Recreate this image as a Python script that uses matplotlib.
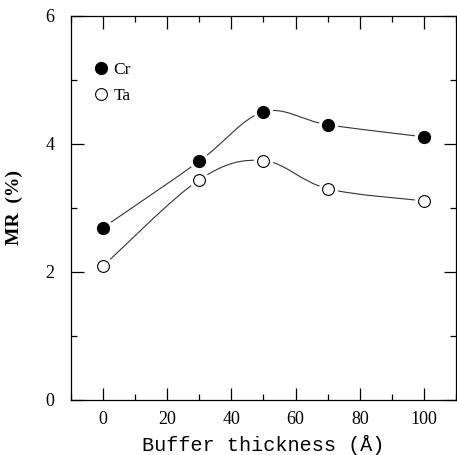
import numpy as np
import matplotlib.pyplot as plt
from matplotlib.path import Path
from matplotlib.patches import PathPatch

# Data
thickness = [0, 30, 50, 70, 100]
mr_cr = [2.69, 3.73, 4.50, 4.30, 4.11]
mr_ta = [2.09, 3.44, 3.74, 3.30, 3.11]


def smooth_path(x, y):
    # Catmull-Rom style bezier through the points
    x = np.asarray(x, float)
    y = np.asarray(y, float)
    verts = [(x[0], y[0])]
    codes = [Path.MOVETO]
    n = len(x)
    for i in range(n - 1):
        x0, y0 = (x[i - 1], y[i - 1]) if i > 0 else (x[i], y[i])
        x3, y3 = (x[i + 2], y[i + 2]) if i + 2 < n else (x[i + 1], y[i + 1])
        c1 = (x[i] + (x[i + 1] - x0) / 6, y[i] + (y[i + 1] - y0) / 6)
        c2 = (x[i + 1] - (x3 - x[i]) / 6, y[i + 1] - (y3 - y[i]) / 6)
        verts += [c1, c2, (x[i + 1], y[i + 1])]
        codes += [Path.CURVE4] * 3
    return Path(verts, codes)


fig = plt.figure(figsize=(4.57, 4.55), dpi=100)
ax = fig.add_axes([0.155, 0.121, 0.843, 0.844])

for ys in (mr_cr, mr_ta):
    ax.add_patch(PathPatch(smooth_path(thickness, ys), fill=False,
                           lw=0.8, color='#333333', zorder=1))

# white halo so the line stops short of each marker
ax.plot(thickness, mr_cr, 'o', ms=13, color='white', zorder=2)
ax.plot(thickness, mr_ta, 'o', ms=13, color='white', zorder=2)
ax.plot(thickness, mr_cr, 'o', ms=8.5, mfc='black', mec='black',
        zorder=3, label='Cr')
ax.plot(thickness, mr_ta, 'o', ms=8.5, mfc='white', mec='black',
        mew=0.8, zorder=3, label='Ta')

ax.set_xlim(-10, 110)
ax.set_ylim(0, 6)
ax.set_xticks([0, 20, 40, 60, 80, 100])
ax.set_xticks(np.arange(-10, 111, 10), minor=True)
ax.set_yticks([0, 2, 4, 6])
ax.set_yticks([1, 3, 5], minor=True)
ax.tick_params(which='both', direction='in', top=True, right=True,
               width=0.9)
ax.tick_params(which='major', length=9)
ax.tick_params(axis='x', which='major', pad=8)
ax.tick_params(axis='y', which='major', pad=12)
ax.tick_params(which='minor', length=4)
for lab in ax.get_xticklabels() + ax.get_yticklabels():
    lab.set_family('Liberation Serif')
    lab.set_fontsize(13)
for sp in ax.spines.values():
    sp.set_linewidth(0.9)

ax.set_xlabel('Buffer thickness (Å)', family='Liberation Mono',
              fontsize=14.5, labelpad=5)
ax.set_ylabel('MR  (%)', family='Liberation Serif', fontweight='bold',
              fontsize=14, labelpad=16)

leg = ax.legend(loc='upper left', bbox_to_anchor=(0.012, 0.922),
                frameon=False, handletextpad=0.1, handlelength=1.2,
                labelspacing=0.6, prop={'family': 'Liberation Serif',
                                         'size': 12.5})

fig.savefig('out.png', dpi=100)
